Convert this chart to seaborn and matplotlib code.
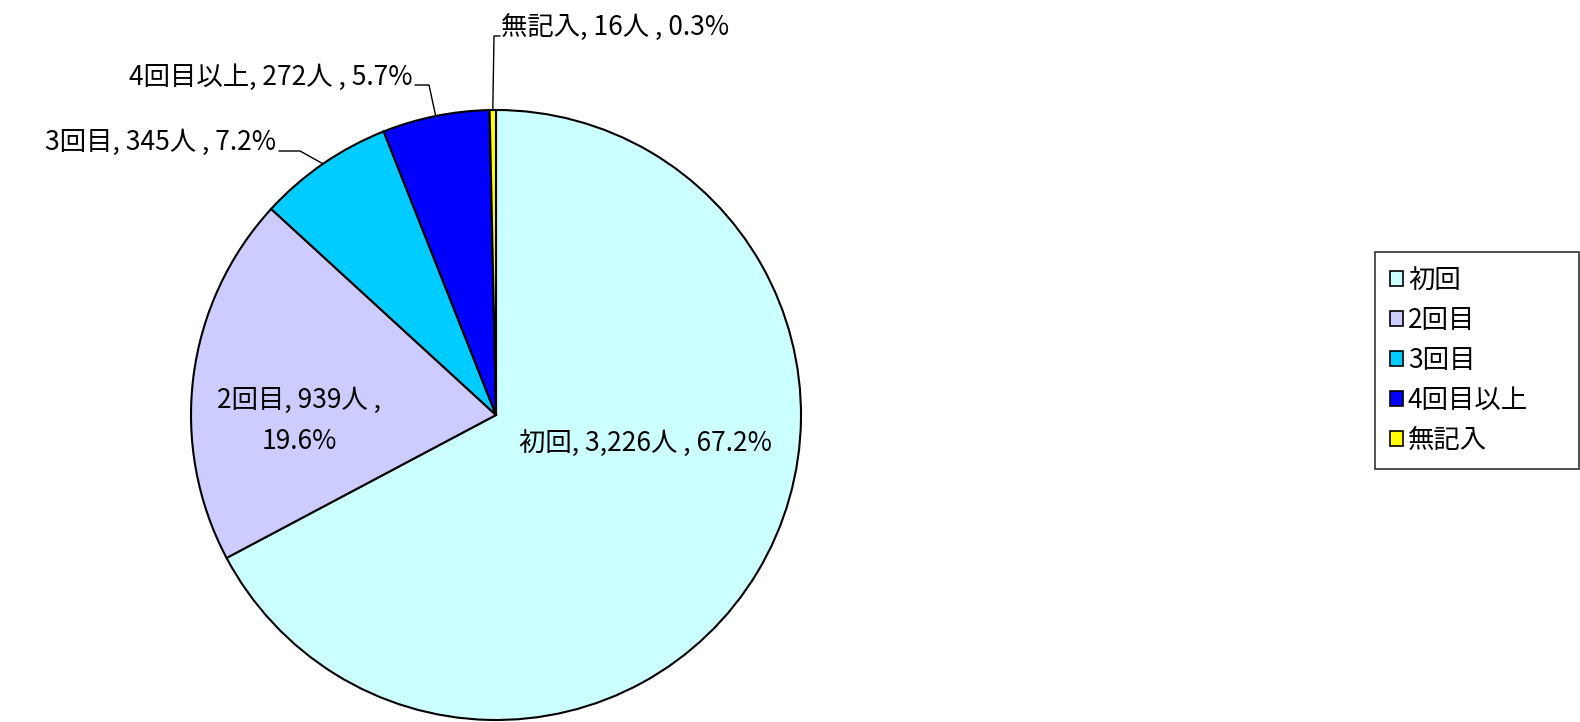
import numpy as np
import seaborn as sns
import matplotlib.pyplot as plt
from matplotlib.patches import Patch

sns.set_theme(style="white")
plt.rcParams['font.family'] = ['Noto Sans CJK JP', 'DejaVu Sans']
plt.rcParams['text.color'] = 'black'

categories = ['初回', '2回目', '3回目', '4回目以上', '無記入']
counts = [3226, 939, 345, 272, 16]
percents = [67.2, 19.6, 7.2, 5.7, 0.3]
colors = ['#CCFFFF', '#CCCCFF', '#00CCFF', '#0000FF', '#FFFF00']

W, H = 1580, 722
cx, cy, R = 496, 415, 305   # pie centre / radius in pixels


def to_data(px, py):
    return (px - cx) / R, (cy - py) / R


fig = plt.figure(figsize=(W / 100, H / 100), dpi=100)
ax = fig.add_axes([0, 0, 1, 1])
wedges, _ = ax.pie(counts, colors=colors, startangle=90, counterclock=False,
                   wedgeprops={'edgecolor': 'black', 'linewidth': 1.5})
ax.set_aspect('auto')
ax.set_xlim(-cx / R, (W - cx) / R)
ax.set_ylim(-(H - cy) / R, cy / R)
ax.axis('off')

labels = [f'{c}, {n:,}人 , {p}%' for c, n, p in zip(categories, counts, percents)]
fs = 19

# inside labels
ax.text(*to_data(645, 443), labels[0], ha='center', va='center', fontsize=fs)
ax.text(*to_data(299, 421), f'{categories[1]}, {counts[1]}人 ,\n{percents[1]}%',
        ha='center', va='center', fontsize=fs, linespacing=1.7)


def mid_point(w):
    a = np.deg2rad((w.theta1 + w.theta2) / 2)
    return np.cos(a), np.sin(a)


# outside labels with leader lines: (wedge index, text anchor px, ha, corner px, end px)
outside = [
    (2, (276, 142), 'right', (300, 151), (279, 151)),
    (3, (413, 77), 'right', (429, 85), (415, 85)),
    (4, (501, 27), 'left', (494, 36), (500, 36)),
]
for i, tpos, ha, corner, end in outside:
    ax.text(*to_data(*tpos), labels[i], ha=ha, va='center', fontsize=fs)
    wx, wy = mid_point(wedges[i])
    c = to_data(*corner)
    e = to_data(*end)
    ax.plot([wx, c[0], e[0]], [wy, c[1], e[1]], color='black', lw=1)

handles = [Patch(facecolor=col, edgecolor='black', linewidth=1.2) for col in colors]
leg = fig.legend(handles, categories, loc='upper left', mode='expand',
                 bbox_to_anchor=(1375 / W, 1 - 467 / H, 204 / W, 215 / H),
                 borderaxespad=0,
                 fontsize=19, frameon=True, fancybox=False, edgecolor='black',
                 handlelength=0.5, handleheight=0.5, handletextpad=0.2,
                 labelspacing=0.5, borderpad=0.55)
leg.get_frame().set_linewidth(1.2)

plt.savefig('out.png', dpi=100)
